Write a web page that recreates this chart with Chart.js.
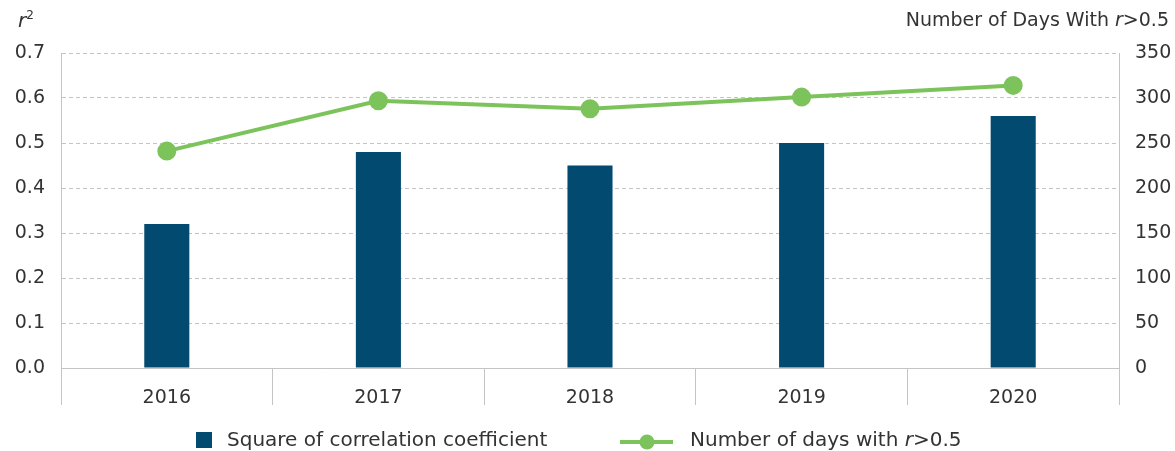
<!DOCTYPE html>
<html>
<head>
<meta charset="utf-8">
<script src="https://cdn.jsdelivr.net/npm/chart.js@4.4.1/dist/chart.umd.min.js"></script>
<style>
  html, body { margin: 0; padding: 0; background: #fff; }
  #wrap { width: 1175px; height: 451px; position: relative; }
</style>
</head>
<body>
<div id="wrap"><canvas id="chart"></canvas></div>
<script>
const years = ["2016", "2017", "2018", "2019", "2020"];
const rSquared = [0.32, 0.48, 0.45, 0.50, 0.56];
const daysAbove = [241, 297, 288, 301, 314];

const FONT = "'DejaVu Sans', sans-serif";
const TEXT = "#333333";
const GRID = "#c4c4c4";
const BAR = "#034a71";
const LINE = "#7cc35b";

// draw a run of text pieces with their own styles, left to right
const drawRuns = (ctx, runs, x, y, align) => {
    const widths = runs.map((r) => {
        ctx.font = `${r.italic ? "italic " : ""}${r.size}px ${FONT}`;
        return ctx.measureText(r.text).width;
    });
    const total = widths.reduce((a, b) => a + b, 0);
    let cx = align === "right" ? x - total : x;
    runs.forEach((r, idx) => {
        ctx.font = `${r.italic ? "italic " : ""}${r.size}px ${FONT}`;
        ctx.fillText(r.text, cx, y + (r.dy || 0));
        cx += widths[idx];
    });
};

const decorPlugin = {
    id: "decor",
    afterDraw(chart) {
        const ctx = chart.ctx;
        const area = chart.chartArea;
        ctx.save();
        ctx.fillStyle = TEXT;
        ctx.textBaseline = "alphabetic";

        // axis titles
        drawRuns(ctx, [
            { text: "r", italic: true, size: 20 },
            { text: "2", size: 12, dy: -8 },
        ], 18, 27, "left");
        drawRuns(ctx, [
            { text: "Number of Days With ", size: 19 },
            { text: "r", italic: true, size: 19 },
            { text: ">0.5", size: 19 },
        ], 1169, 26, "right");

        // legend
        const ly = area.bottom + 72;
        const ds = chart.data.datasets;
        ctx.fillStyle = ds[1].backgroundColor;
        ctx.fillRect(196, ly - 8, 16, 16);
        ctx.fillStyle = TEXT;
        ctx.textBaseline = "middle";
        drawRuns(ctx, [{ text: ds[1].label, size: 20 }], 227, ly + 1, "left");

        ctx.strokeStyle = ds[0].borderColor;
        ctx.lineWidth = 4;
        ctx.beginPath();
        ctx.moveTo(620, ly + 2);
        ctx.lineTo(673, ly + 2);
        ctx.stroke();
        ctx.fillStyle = ds[0].pointBackgroundColor;
        ctx.beginPath();
        ctx.arc(647, ly + 2, 7.5, 0, Math.PI * 2);
        ctx.fill();
        ctx.fillStyle = TEXT;
        drawRuns(ctx, [
            { text: "Number of days with ", size: 20 },
            { text: "r", italic: true, size: 20 },
            { text: ">0.5", size: 20 },
        ], 690, ly + 1, "left");
        ctx.restore();
    },
};

const whiteBg = {
    id: "whiteBg",
    beforeDraw(chart) {
        const ctx = chart.ctx;
        ctx.save();
        ctx.fillStyle = "#fff";
        ctx.fillRect(0, 0, chart.width, chart.height);
        ctx.restore();
    },
};

const chartConfig = {
    data: {
        labels: years,
        datasets: [
            {
                type: "line",
                label: "Number of days with r>0.5",
                data: daysAbove,
                yAxisID: "yRight",
                borderColor: LINE,
                backgroundColor: LINE,
                pointBackgroundColor: LINE,
                pointBorderColor: LINE,
                borderWidth: 4,
                pointRadius: 7.5,
                pointHoverRadius: 7.5,
                tension: 0,
                order: 0,
            },
            {
                type: "bar",
                label: "Square of correlation coefficient",
                data: rSquared,
                yAxisID: "yLeft",
                backgroundColor: BAR,
                categoryPercentage: 1,
                barPercentage: 0.213,
                order: 1,
            },
        ],
    },
    options: {
        responsive: false,
        animation: false,
        events: [],
        layout: { padding: { top: 53, left: 0, right: 0, bottom: 0 } },
        plugins: {
            legend: { display: false },
            tooltip: { enabled: false },
        },
        scales: {
            x: {
                offset: true,
                grid: {
                    offset: true,
                    drawOnChartArea: false,
                    drawTicks: true,
                    tickLength: 37,
                    color: GRID,
                },
                border: { color: GRID },
                ticks: {
                    color: TEXT,
                    padding: -18,
                    font: { family: FONT, size: 19 },
                },
                afterFit: (scale) => { scale.height = 83; },
            },
            yLeft: {
                position: "left",
                min: 0,
                max: 0.7,
                ticks: {
                    stepSize: 0.1,
                    color: TEXT,
                    padding: 16,
                    font: { family: FONT, size: 19 },
                    callback: (v) => v.toFixed(1),
                },
                grid: { color: GRID, drawTicks: false },
                border: { color: GRID, dash: [4, 3] },
                afterFit: (scale) => { scale.width = 61; },
            },
            yRight: {
                position: "right",
                min: 0,
                max: 350,
                ticks: {
                    stepSize: 50,
                    color: TEXT,
                    padding: 16,
                    font: { family: FONT, size: 19 },
                },
                grid: { drawOnChartArea: false, drawTicks: false },
                border: { color: GRID },
                afterFit: (scale) => { scale.width = 56; },
            },
        },
    },
    plugins: [whiteBg, decorPlugin],
};

const canvas = document.getElementById("chart");
canvas.width = 1175;
canvas.height = 451;
new Chart(canvas, chartConfig);
</script>
</body>
</html>
